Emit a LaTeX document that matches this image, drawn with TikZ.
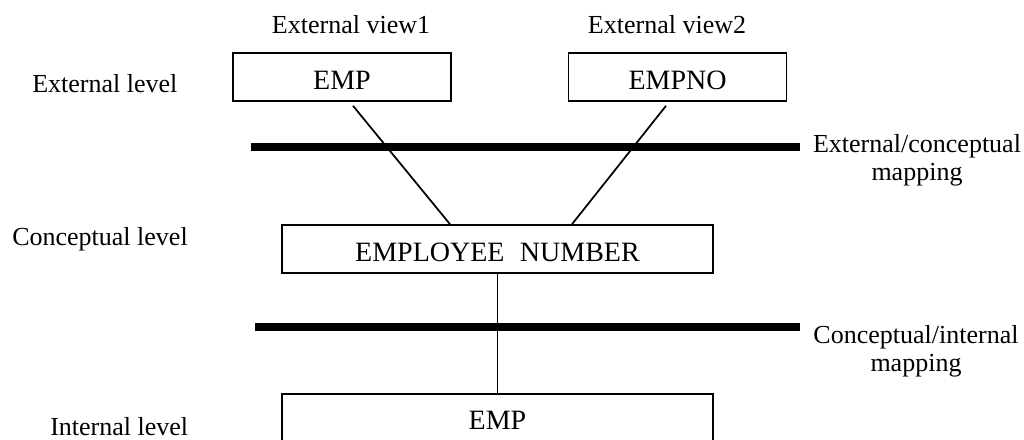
\documentclass[tikz,border=0pt]{standalone}
\usepackage{fontspec}
\setmainfont{Liberation Serif}
\usetikzlibrary{calc}

\tikzset{
  lvl/.style={font=\fontsize{19.5}{21}\selectfont, inner sep=0pt},
  maplbl/.style={font=\fontsize{19.5}{21}\selectfont, inner sep=0pt, align=center, anchor=north},
  viewbox/.style={draw, line width=1.2pt, font=\fontsize{21}{24}\selectfont,
    text height=18pt, text depth=0pt, inner ysep=9pt, minimum width=163.5pt},
  wideview/.style={viewbox, minimum width=323.25pt},
  mapbar/.style={line width=6pt},
  link/.style={line width=1.3pt}
}

\begin{document}
\begin{tikzpicture}[x=0.75pt,y=-0.75pt]
  \clip (0,0) rectangle (1024,439);
  \fill [white] (0,0) rectangle (1024,439);

  % level names on the left
  \node [lvl, anchor=base west] (extlevel) at (32,92) {External level};
  \node [lvl, anchor=base west] (conlevel) at (12,245) {Conceptual level};
  \node [lvl, anchor=base west] (intlevel) at (50,435) {Internal level};

  % external views
  \node [lvl, anchor=base] (view1) at (351,33) {External view1};
  \node [lvl, anchor=base] (view2) at (667,33) {External view2};
  \node [viewbox] (emp1) at (342,77) {EMP};
  \node [viewbox] (empno) at (677.5,77) {EMPNO};

  % conceptual and internal records
  \node [wideview] (empnum) at (497.5,249) {EMPLOYEE\hspace{0.55em}NUMBER};
  \node [wideview, anchor=north, text depth=40pt] (intemp) at (497.5,393) {EMP};

  % mapping bars
  \coordinate (ecleft) at (251,147);
  \coordinate (ecright) at (800,147);
  \coordinate (cileft) at (255,327);
  \coordinate (ciright) at (800,327);
  \draw [mapbar] (ecleft) -- (ecright);
  \draw [mapbar] (cileft) -- (ciright);
  \node [maplbl] (ecmap) at (917,134) {External/conceptual\\mapping};
  \node [maplbl] (cimap) at (916,325) {Conceptual/internal\\mapping};

  % links between the levels
  \draw [link] ($(emp1.south)+(11,4)$) -- ($(empnum.north)+(-47.5,0)$);
  \draw [link] ($(empno.south)+(-11.5,4)$) -- ($(empnum.north)+(74.5,0)$);
  \draw [link] (empnum.south) -- (intemp.north);
\end{tikzpicture}
\end{document}
